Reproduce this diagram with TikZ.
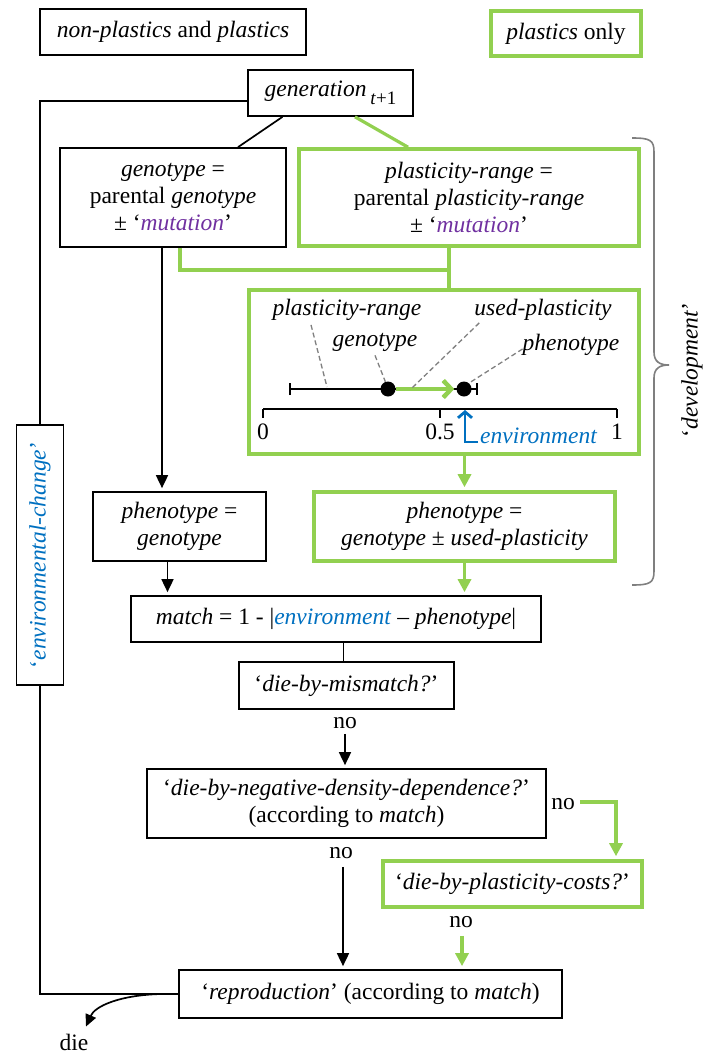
\documentclass[tikz,border=0pt]{standalone}
\usepackage{fontspec}
\setmainfont{Liberation Serif}
\usetikzlibrary{arrows.meta}

\definecolor{plgreen}{RGB}{146,208,80}
\definecolor{envblue}{RGB}{0,112,192}
\definecolor{mutpurple}{RGB}{112,48,160}
\definecolor{bracegray}{RGB}{127,127,127}

\tikzset{
  every node/.style={font=\fontsize{23.5}{27}\selectfont, inner sep=0pt},
  bbox/.style={draw, line width=1.7pt, align=center},
  gbox/.style={draw=plgreen, line width=3.6pt, align=center},
  link/.style={line width=1.7pt},
  glink/.style={draw=plgreen, line width=3.2pt},
  arr/.style={link, -{Triangle[length=13pt,width=12pt]}, shorten >=3pt},
  garr/.style={glink, -{Triangle[length=13pt,width=13pt]}, shorten >=3pt},
  leader/.style={draw=gray, dash pattern=on 5pt off 3pt, line width=1.3pt},
}
\newcommand{\mutword}{\textcolor{mutpurple}{\textit{mutation}}}

\begin{document}
\begin{tikzpicture}[x=1pt,y=-1pt]
\useasboundingbox (0,0) rectangle (705,1057);

% Legend
\node[bbox, minimum width=266, minimum height=46] (legboth) at (173,32) {\textit{non-plastics} and \textit{plastics}};
\node[gbox, minimum width=150, minimum height=45] (legpl) at (566,33.5) {\textit{plastics} only};

% Inheritance
\node[bbox, minimum width=165, minimum height=46] (gen) at (330.5,93)
  {\textit{generation}\,\raisebox{-8pt}{\fontsize{19}{19}\selectfont\textit{t}+1}};
\node[bbox, minimum width=226, minimum height=99] (geno) at (173,197.5)
  {\textit{genotype} =\\parental \textit{genotype}\\± `\mutword'};
\node[gbox, minimum width=340, minimum height=97] (plr) at (469,197.5)
  {\textit{plasticity-range} =\\parental \textit{plasticity-range}\\± `\mutword'};

\draw[link] ([xshift=-48pt]gen.south) -- ([xshift=65pt]geno.north);
\draw[glink] ([xshift=24.5pt]gen.south) -- ([xshift=-61pt]plr.north);

% Development
\node[gbox, minimum width=390, minimum height=164] (dev) at (444,372) {};
\coordinate (tjoin) at (449,270);
\draw[glink] ([xshift=7pt]geno.south) |- (tjoin);
\draw[glink] (plr.south -| tjoin) -- (dev.north -| tjoin);

% Scale
\draw[link] (263,409) -- (617,409);
\foreach \v [count=\i] in {0, 0.5, 1}
  \draw[link] (263+354*\v,409) -- (263+354*\v,418) node[below=5pt] (tick\i) {\v};

\draw[link, {Bar[width=12pt]}-{Bar[width=12pt]}] (289,389) -- (478,389);
\node[circle, fill, minimum size=15] (gdot) at (388,389) {};
\node[circle, fill, minimum size=15] (pdot) at (464,389) {};
\draw[draw=plgreen, line width=4.5pt, -{Straight Barb[length=8pt,width=17pt]}] (gdot.east) -- ([xshift=-2pt]pdot.west);

\node[text=envblue, anchor=base west] (envtxt) at (480,443) {\textit{environment}};
\coordinate (envpt) at (465,410);
\draw[draw=envblue, line width=2.8pt, -{Straight Barb[length=6pt,width=14pt]}] ([xshift=-2pt,yshift=1pt]envtxt.base west) -| (envpt);

\node (lrange) at (347,310) {\textit{plasticity-range}};
\node (lgeno) at (375,342) {\textit{genotype}};
\node (lused) at (543,310) {\textit{used-plasticity}};
\node (lpheno) at (571,345) {\textit{phenotype}};
\draw[leader] ([xshift=-36pt,yshift=-4pt]lrange.south) -- (327,387);
\draw[leader] ([yshift=-4pt]lgeno.south) -- (gdot.110);
\draw[leader] ([xshift=5pt,yshift=-2pt]lused.south west) -- (412,388);
\draw[leader] ([yshift=-4pt]lpheno.west) -- (pdot.50);

% Phenotypes
\node[bbox, minimum width=173, minimum height=69] (ph1) at (179.5,526.5)
  {\textit{phenotype} =\\\textit{genotype}};
\node[gbox, minimum width=301, minimum height=69] (ph2) at (464.5,526.5)
  {\textit{phenotype} =\\\textit{genotype} ± \textit{used-plasticity}};
\draw[arr] ([xshift=-11pt]geno.south) -- ([xshift=-11pt]geno.south |- ph1.north);
\draw[garr] (ph2.north |- dev.south) -- (ph2.north);

% Brace
\draw[bracegray, line width=1.6pt] (632,138) .. controls (650,138) and (654,140) .. (654,152)
  -- (654,352) .. controls (654,362) and (660,365) .. (669,365)
  .. controls (660,365) and (654,368) .. (654,378) -- (654,571)
  .. controls (654,583) and (650,585) .. (632,585);
\node[rotate=90] (devlab) at (692,370) {`\textit{development}'};

% Selection
\node[bbox, minimum width=410, minimum height=46] (match) at (336,619)
  {\textit{match} = 1 - |\textcolor{envblue}{\textit{environment}} -- \textit{phenotype}|};
\draw[arr] ([xshift=-12pt]ph1.south) -- ([xshift=-12pt]ph1.south |- match.north);
\draw[garr] (ph2.south) -- (ph2.south |- match.north);

\node[bbox, minimum width=215, minimum height=47] (mism) at (346.5,685.5) {`\textit{die-by-mismatch?}'};
\draw[link] ([xshift=-3pt]mism.north |- match.south) -- ([xshift=-3pt]mism.north);
\node (no1) at (345,723) {no};
\node[bbox, minimum width=399, minimum height=69] (dens) at (346.5,803.5)
  {`\textit{die-by-negative-density-dependence?}'\\(according to \textit{match})};
\draw[arr, shorten <=5pt] (no1.south) -- (no1.south |- dens.north);

\node (no2) at (563,804) {no};
\node[gbox, minimum width=259, minimum height=46] (costs) at (512.5,884) {`\textit{die-by-plasticity-costs?}'};
\draw[garr, shorten <=5pt] ([yshift=2pt]no2.east) -| ([xshift=103.5pt]costs.north);

\node (no3) at (341,853) {no};
\node (no4) at (461,922) {no};
\node[bbox, minimum width=383, minimum height=48] (repr) at (370.5,994)
  {`\textit{reproduction}' (according to \textit{match})};
\draw[arr, shorten <=8pt] ([xshift=2pt]no3.south) -- ([xshift=2pt]no3.south |- repr.north);
\draw[garr, shorten <=8pt] ([xshift=1pt]no4.south) -- ([xshift=1pt]no4.south |- repr.north);

% Environmental change
\node[bbox, rotate=90, minimum width=260, minimum height=47, text=envblue] (env) at (40,555)
  {`\textit{environmental-change}'};
\draw[link] ([yshift=-8pt]gen.west) -| (env.east);
\draw[link] (env.west) |- (repr.west);

% Death
\coordinate (split) at (161,994);
\node (die) at (74,1042) {die};
\draw[link, -{Triangle[length=12pt,width=11pt]}] (split) .. controls (120,995) and (95,1006) .. ([xshift=12pt,yshift=7pt]die.north);
\end{tikzpicture}
\end{document}
